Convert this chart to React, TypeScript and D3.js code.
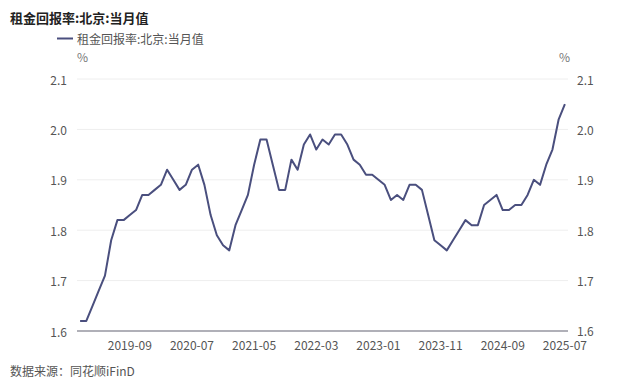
import React from "react";
import * as d3 from "d3";

const title = "租金回报率:北京:当月值";
const seriesName = "租金回报率:北京:当月值";
const source = "数据来源：同花顺iFinD";

const months: string[] = [];
for (let y = 2019; y <= 2025; y++) {
  for (let m = 1; m <= 12; m++) {
    if (y === 2025 && m > 7) break;
    months.push(`${y}-${String(m).padStart(2, "0")}`);
  }
}

const values = [
  1.62, 1.62, 1.65, 1.68, 1.71, 1.78, 1.82, 1.82, 1.83, 1.84, 1.87, 1.87,
  1.88, 1.89, 1.92, 1.90, 1.88, 1.89, 1.92, 1.93, 1.89, 1.83, 1.79, 1.77,
  1.76, 1.81, 1.84, 1.87, 1.93, 1.98, 1.98, 1.93, 1.88, 1.88, 1.94, 1.92,
  1.97, 1.99, 1.96, 1.98, 1.97, 1.99, 1.99, 1.97, 1.94, 1.93, 1.91, 1.91,
  1.90, 1.89, 1.86, 1.87, 1.86, 1.89, 1.89, 1.88, 1.83, 1.78, 1.77, 1.76,
  1.78, 1.80, 1.82, 1.81, 1.81, 1.85, 1.86, 1.87, 1.84, 1.84, 1.85, 1.85,
  1.87, 1.90, 1.89, 1.93, 1.96, 2.02, 2.05,
];

const xTickLabels = ["2019-09", "2020-07", "2021-05", "2022-03", "2023-01", "2023-11", "2024-09", "2025-07"];
const yTicks = [1.6, 1.7, 1.8, 1.9, 2.0, 2.1];

const W = 640;
const H = 383;
const left = 77;
const right = 568;
const top = 79;
const bottom = 331;
const lineColor = "#4a4f7e";
const textColor = "#555";
const font = "'Noto Sans CJK SC', 'Noto Sans', sans-serif";

export default function App() {
  const x = d3.scaleBand<string>().domain(months).range([left, right]);
  const y = d3.scaleLinear().domain([1.6, 2.1]).range([bottom, top]);
  const cx = (m: string) => (x(m) ?? 0) + x.bandwidth() / 2;
  const line = d3
    .line<number>()
    .x((_, i) => cx(months[i]))
    .y((d) => y(d));

  return (
    <svg
      width={W}
      height={H}
      style={{ position: "absolute", left: 0, top: 0, background: "#fff" }}
      fontFamily={font}
    >
      <rect width={W} height={H} fill="#fff" />
      <text x={10} y={23} fontSize={13} fontWeight="bold" fill="#222">
        {title}
      </text>
      <line x1={57} x2={73} y1={38.5} y2={38.5} stroke={lineColor} strokeWidth={2} />
      <text x={77} y={38} fontSize={12} fill={textColor} dominantBaseline="central">
        {seriesName}
      </text>
      <text x={77} y={56} fontSize={12} fill="#777" dominantBaseline="central">
        %
      </text>
      <text x={559} y={56} fontSize={12} fill="#777" dominantBaseline="central">
        %
      </text>
      {yTicks.map((t) => (
        <g key={t}>
          {t !== 1.6 && (
            <line x1={left} x2={right} y1={y(t)} y2={y(t)} stroke="#eeeeee" strokeWidth={1} />
          )}
          <text x={67} y={y(t)} fontSize={12} fill={textColor} textAnchor="end" dominantBaseline="central">
            {t.toFixed(1)}
          </text>
          <text x={577} y={y(t) - (t === 1.6 ? 1 : 0)} fontSize={12} fill={textColor} textAnchor="start" dominantBaseline="central">
            {t.toFixed(1)}
          </text>
        </g>
      ))}
      <line x1={left} x2={right} y1={bottom} y2={bottom} stroke="#b0b0b8" strokeWidth={2} />
      {xTickLabels.map((m) => (
        <text key={m} x={cx(m)} y={344} fontSize={12} fill={textColor} textAnchor="middle" dominantBaseline="central">
          {m}
        </text>
      ))}
      <path d={line(values) ?? ""} fill="none" stroke={lineColor} strokeWidth={2} strokeLinejoin="round" />
      <text x={10} y={370} fontSize={12} fill={textColor} dominantBaseline="central">
        {source}
      </text>
    </svg>
  );
}
